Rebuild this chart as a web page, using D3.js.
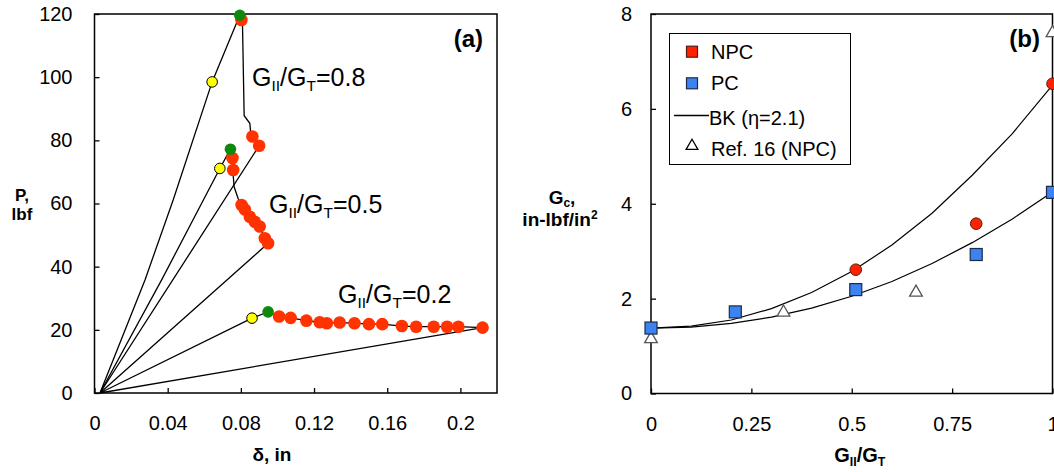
<!DOCTYPE html>
<html><head><meta charset="utf-8">
<script src="https://cdn.jsdelivr.net/npm/d3@7"></script>
<style>
html,body{margin:0;padding:0;background:#fff;}
svg{display:block;font-family:"Liberation Sans",Arial,sans-serif;}
</style></head>
<body>
<svg id="c" width="1054" height="472"></svg>
<script>
// ---------- DATA: panel (a) ----------
const aXTicks = [0, 0.04, 0.08, 0.12, 0.16, 0.2];
const aYTicks = [0, 20, 40, 60, 80, 100, 120];
// load-displacement traces (delta in, P lbf)
const path08 = [[0.003,0],[0.0276,35.8],[0.0430,61.1],[0.0643,98.5],[0.0794,119.6],[0.0809,116.5],[0.0818,87.8],[0.0849,85.4],[0.0853,82.8],[0.0863,81.2],[0.0900,78.3],[0.003,0]];
const path05 = [[0.003,0],[0.0367,35.8],[0.0685,71.1],[0.0743,77.2],[0.0754,74.4],[0.0758,70.6],[0.0758,69.0],[0.0763,65.3],[0.0785,61.6],[0.0804,59.5],[0.0822,58.1],[0.0849,55.8],[0.0876,54.2],[0.0903,52.7],[0.0931,49.0],[0.0949,47.4],[0.003,0]];
const path02 = [[0.003,0],[0.0861,23.7],[0.0949,25.7],[0.1009,24.2],[0.1072,23.8],[0.1158,22.9],[0.1231,22.4],[0.1270,22.1],[0.1340,22.3],[0.1421,22.1],[0.1500,21.8],[0.1573,21.8],[0.1680,21.2],[0.1758,21.0],[0.1854,21.0],[0.1927,21.0],[0.1989,21.0],[0.2121,20.7],[0.003,0]];
const yellowPts = [[0.0643,98.5],[0.0685,71.1],[0.0861,23.7]];
const greenPts  = [[0.0794,119.6],[0.0743,77.2],[0.0949,25.7]];
const redPts = [[0.0803,118.1],[0.0863,81.2],[0.0900,78.3],
  [0.0754,74.4],[0.0758,70.6],[0.0804,59.5],[0.0822,58.1],[0.0849,55.8],[0.0876,54.2],[0.0903,52.7],[0.0931,49.0],[0.0949,47.4],
  [0.1009,24.2],[0.1072,23.8],[0.1158,22.9],[0.1231,22.4],[0.1270,22.1],[0.1340,22.3],[0.1421,22.1],[0.1500,21.8],[0.1573,21.8],[0.1680,21.2],[0.1758,21.0],[0.1854,21.0],[0.1927,21.0],[0.1989,21.0],[0.2121,20.7]];
const ratioLabels = ["0.8","0.5","0.2"];

// ---------- DATA: panel (b) ----------
const bXTicks = [0, 0.25, 0.5, 0.75, 1];
const bXTickLabels = ["0","0.25","0.5","0.75","1"];
const bYTicks = [0, 2, 4, 6, 8];
const npcX = [0.51, 0.81, 1.0];
const npcY = [2.61, 3.58, 6.53];
const pcX = [0, 0.21, 0.51, 0.81, 1.0];
const pcY = [1.38, 1.72, 2.19, 2.93, 4.24];
const refX = [0, 0.33, 0.66, 1.0];
const refY = [1.15, 1.71, 2.13, 7.6];
const bkX = [0, 0.1, 0.2, 0.3, 0.4, 0.5, 0.6, 0.7, 0.8, 0.9, 1.0];
const bkNPC = [1.38, 1.42, 1.55, 1.79, 2.13, 2.57, 3.13, 3.80, 4.60, 5.48, 6.50];
const bkPC  = [1.38, 1.40, 1.48, 1.61, 1.80, 2.05, 2.36, 2.74, 3.18, 3.68, 4.25];
const legendLabels = ["NPC", "PC", "BK (\u03b7=2.1)", "Ref. 16 (NPC)"];

const svg = d3.select("#c");
const defs = svg.append("defs");
defs.append("filter").attr("id","soft").attr("x","-50%").attr("y","-50%").attr("width","200%").attr("height","200%")
  .append("feGaussianBlur").attr("stdDeviation",0.7);

const tickFont = 20;

function subLabel(g, x, y, ratio, size){
  const t = g.append("text").attr("x",x).attr("y",y).attr("font-size",size).attr("fill","#000");
  t.append("tspan").text("G");
  t.append("tspan").attr("font-size",size*0.62).attr("dy",size*0.2).text("II");
  t.append("tspan").attr("dy",-size*0.2).text("/G");
  t.append("tspan").attr("font-size",size*0.62).attr("dy",size*0.2).text("T");
  t.append("tspan").attr("dy",-size*0.2).text(ratio === null ? "" : "=" + ratio);
  return t;
}

// ================= Panel (a) =================
const xa = d3.scaleLinear().domain([0,0.22]).range([94.5,497]);
const ya = d3.scaleLinear().domain([0,120]).range([393,14]);
const ga = svg.append("g");

ga.append("rect").attr("x",xa(0)).attr("y",ya(120)).attr("width",xa(0.22)-xa(0)).attr("height",ya(0)-ya(120))
  .attr("fill","none").attr("stroke","#000").attr("stroke-width",1.5);

const axA = ga.append("g").attr("transform",`translate(0,${ya(0)})`)
  .call(d3.axisBottom(xa).tickValues(aXTicks).tickSize(-5).tickPadding(23).tickFormat(d => d===0?"0":d3.format("~g")(d)));
const ayA = ga.append("g").attr("transform",`translate(${xa(0)},0)`)
  .call(d3.axisLeft(ya).tickValues(aYTicks).tickSize(-5).tickPadding(22));
[axA, ayA].forEach(a => {
  a.select(".domain").remove();
  a.selectAll(".tick line").attr("stroke","#000").attr("stroke-width",1.3);
  a.selectAll(".tick text").attr("font-size",tickFont).attr("font-family","Liberation Sans, Arial, sans-serif").attr("fill","#000");
});

const lineA = d3.line().x(d => xa(d[0])).y(d => ya(d[1]));
[path08, path05, path02].forEach(p => {
  ga.append("path").attr("d", lineA(p)).attr("fill","none").attr("stroke","#000").attr("stroke-width",1.3);
});
ga.selectAll(".red").data(redPts).join("circle").attr("class","red")
  .attr("cx",d=>xa(d[0])).attr("cy",d=>ya(d[1])).attr("r",6.3).attr("fill","#ff3300").attr("filter","url(#soft)");
ga.selectAll(".grn").data(greenPts).join("circle").attr("class","grn")
  .attr("cx",d=>xa(d[0])).attr("cy",d=>ya(d[1])).attr("r",5.8).attr("fill","#0b8a0b").attr("filter","url(#soft)");
ga.selectAll(".yel").data(yellowPts).join("circle").attr("class","yel")
  .attr("cx",d=>xa(d[0])).attr("cy",d=>ya(d[1])).attr("r",5.3).attr("fill","#ffff00").attr("stroke","#000").attr("stroke-width",1);

subLabel(ga, 252, 86, ratioLabels[0], 25);
subLabel(ga, 269, 213, ratioLabels[1], 25);
subLabel(ga, 338, 303, ratioLabels[2], 25);

ga.append("text").attr("x",483).attr("y",47).attr("text-anchor","end").attr("font-size",24).attr("font-weight","bold").text("(a)");

// axis titles
ga.append("text").attr("x",272).attr("y",461).attr("text-anchor","middle").attr("font-size",19).attr("font-weight","bold").text("\u03b4, in");
ga.append("text").attr("x",22).attr("y",201).attr("text-anchor","middle").attr("font-size",17).attr("font-weight","bold").text("P,");
ga.append("text").attr("x",22).attr("y",220).attr("text-anchor","middle").attr("font-size",17).attr("font-weight","bold").text("lbf");

// ================= Panel (b) =================
const xb = d3.scaleLinear().domain([0,1]).range([651,1052.5]);
const yb = d3.scaleLinear().domain([0,8]).range([393.5,14]);
const gb = svg.append("g");

gb.append("rect").attr("x",xb(0)).attr("y",yb(8)).attr("width",xb(1)-xb(0)).attr("height",yb(0)-yb(8))
  .attr("fill","none").attr("stroke","#000").attr("stroke-width",1.5);

const axB = gb.append("g").attr("transform",`translate(0,${yb(0)})`)
  .call(d3.axisBottom(xb).tickValues(bXTicks).tickSize(-5).tickPadding(23).tickFormat((d,i)=>bXTickLabels[i]));
const ayB = gb.append("g").attr("transform",`translate(${xb(0)},0)`)
  .call(d3.axisLeft(yb).tickValues(bYTicks).tickSize(-5).tickPadding(19));
[axB, ayB].forEach(a => {
  a.select(".domain").remove();
  a.selectAll(".tick line").attr("stroke","#000").attr("stroke-width",1.3);
  a.selectAll(".tick text").attr("font-size",tickFont).attr("font-family","Liberation Sans, Arial, sans-serif").attr("fill","#000");
});

const lineB = d3.line().x((d,i)=>xb(bkX[i])).y(d=>yb(d));
[bkNPC, bkPC].forEach(s => {
  gb.append("path").attr("d", lineB(s)).attr("fill","none").attr("stroke","#000").attr("stroke-width",1.2);
});

const tri = d3.symbol().type(d3.symbolTriangle).size(70);
gb.selectAll(".tri").data(refX).join("path").attr("class","tri")
  .attr("transform",(d,i)=>`translate(${xb(d)},${yb(refY[i])})`).attr("d",tri())
  .attr("fill","#fff").attr("stroke","#555").attr("stroke-width",1.3);
gb.selectAll(".npc").data(npcX).join("circle").attr("class","npc")
  .attr("cx",d=>xb(d)).attr("cy",(d,i)=>yb(npcY[i])).attr("r",5.8)
  .attr("fill","#ff2200").attr("stroke","#5a1a10").attr("stroke-width",1);
gb.selectAll(".pc").data(pcX).join("rect").attr("class","pc")
  .attr("x",d=>xb(d)-6).attr("y",(d,i)=>yb(pcY[i])-6).attr("width",12).attr("height",12)
  .attr("fill","#3c82f0").attr("stroke","#1c2c48").attr("stroke-width",1.2);

gb.append("text").attr("x",1040).attr("y",47).attr("text-anchor","end").attr("font-size",24).attr("font-weight","bold").text("(b)");

// legend
const lg = gb.append("g");
lg.append("rect").attr("x",669.5).attr("y",33.5).attr("width",181).attr("height",131).attr("fill","#fff").attr("stroke","#000").attr("stroke-width",1);
const legY = [51.7, 83.3, 115.5, 146];
lg.append("rect").attr("x",692-5.5).attr("y",legY[0]-5.5).attr("width",11).attr("height",11).attr("fill","#ff2200").attr("stroke","#5a1a10").attr("stroke-width",1.2);
lg.append("rect").attr("x",692-5.5).attr("y",legY[1]-5.5).attr("width",11).attr("height",11).attr("fill","#3c82f0").attr("stroke","#1c2c48").attr("stroke-width",1.2);
lg.append("line").attr("x1",674).attr("x2",709).attr("y1",legY[2]).attr("y2",legY[2]).attr("stroke","#000").attr("stroke-width",1.3);
lg.append("path").attr("transform",`translate(692,${legY[3]})`).attr("d",d3.symbol().type(d3.symbolTriangle).size(60)()).attr("fill","#fff").attr("stroke","#000").attr("stroke-width",1.3);
const legTextY = [58.5, 90.3, 125, 156];
legendLabels.forEach((t,i) => {
  lg.append("text").attr("x", i===2 ? 709 : 711).attr("y",legTextY[i]).attr("font-size",20).attr("fill","#000").text(t);
});

// axis titles (b)
const xt = subLabel(gb, 0, 462, null, 20).attr("font-weight","bold");
const bb = xt.node().getBBox();
xt.attr("x", 860 - bb.width/2);
const yt1 = gb.append("text").attr("x",562).attr("y",204).attr("text-anchor","middle").attr("font-size",19).attr("font-weight","bold");
yt1.append("tspan").text("G");
yt1.append("tspan").attr("font-size",12).attr("dy",3).text("c");
yt1.append("tspan").attr("dy",-3).text(",");
const yt2 = gb.append("text").attr("x",560).attr("y",226).attr("text-anchor","middle").attr("font-size",19).attr("font-weight","bold");
yt2.append("tspan").text("in-lbf/in");
yt2.append("tspan").attr("font-size",12).attr("dy",-7).text("2");
</script>
</body></html>
